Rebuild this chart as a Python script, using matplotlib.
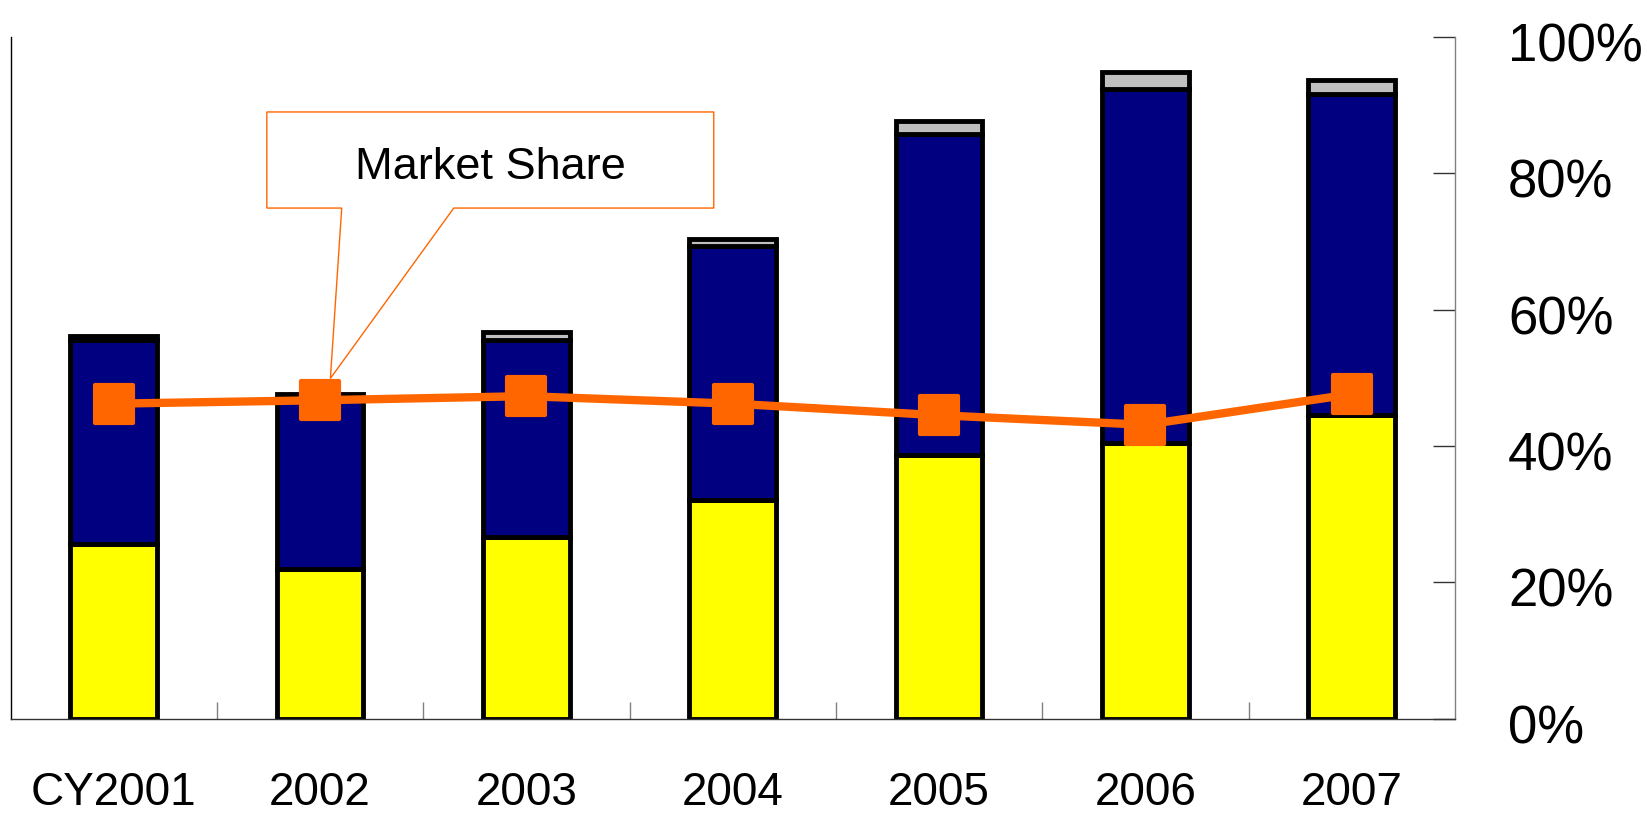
import numpy as np
import matplotlib.pyplot as plt
from matplotlib.patches import Polygon
from matplotlib.markers import MarkerStyle
from matplotlib.transforms import ScaledTranslation

# data (percent)
years = ['CY2001', '2002', '2003', '2004', '2005', '2006', '2007']
bottom_seg = [25.6, 21.9, 26.7, 32.0, 38.7, 40.4, 44.5]   # yellow
middle_seg = [30.0, 25.2, 28.9, 37.3, 47.1, 52.0, 47.2]   # navy
top_seg = [0.5, 0.5, 1.1, 1.0, 1.9, 2.4, 2.0]             # gray
market_share = [46.2, 46.7, 47.3, 46.2, 44.5, 43.1, 47.6]

plt.rcParams['font.family'] = ['Liberation Sans', 'DejaVu Sans']

fig = plt.figure(figsize=(16.47, 8.13), dpi=100)
ax = fig.add_axes([0.0064, 0.1162, 0.877, 0.8383])

x = np.arange(len(years))
bottom_seg = np.array(bottom_seg)
middle_seg = np.array(middle_seg)
top_seg = np.array(top_seg)

w = 0.42
ax.bar(x, bottom_seg, w, color='#FFFF00', edgecolor='black', linewidth=3.5, zorder=2)
ax.bar(x, middle_seg, w, bottom=bottom_seg, color='#000080', edgecolor='black',
       linewidth=3.5, zorder=2)
ax.bar(x, top_seg, w, bottom=bottom_seg + middle_seg, color='#C0C0C0',
       edgecolor='black', linewidth=3.5, zorder=2)

ax.plot(x, market_share, color='#FF6600', linewidth=6,
        marker=MarkerStyle('s', joinstyle='round'), markersize=28, markeredgewidth=3,
        markerfacecolor='#FF6600', markeredgecolor='#FF6600', zorder=4)

# callout box for the line, pointing at the 2002 marker
tx, ty = x[1] + 0.05, market_share[1] + 3.2
callout = Polygon([(0.742, 89.0), (2.908, 89.0), (2.908, 74.9), (1.648, 74.9),
                   (tx, ty), (1.105, 74.9), (0.742, 74.9)],
                  closed=True, facecolor='white', edgecolor='#FF6600',
                  linewidth=1, zorder=3)
ax.add_patch(callout)
ax.text(1.825, 80.8, 'Market Share', fontsize=32.5, ha='center', va='center', zorder=5)

ax.set_xlim(-0.5, len(years) - 0.5)
ax.set_ylim(0, 100)

# right-hand percent axis
ax.yaxis.tick_right()
ax.set_yticks(np.arange(0, 101, 20))
ax.set_yticklabels([f'{v}%' for v in range(0, 101, 20)])
ax.tick_params(axis='y', direction='in', length=16, width=1, color='#333333',
               labelsize=38, pad=-28)
for lab in ax.get_yticklabels():
    lab.set_horizontalalignment('left')
    lab.set_transform(lab.get_transform() + ScaledTranslation(0.92, -0.05, fig.dpi_scale_trans))

# category ticks between bars, labels under bars
ax.set_xticks(x)
ax.set_xticklabels(years)
ax.tick_params(axis='x', which='major', length=0, labelsize=33, pad=38)
ax.set_xticks(np.arange(0.5, len(years) - 1), minor=True)
ax.tick_params(axis='x', which='minor', direction='in', length=12, width=1, color='#808080')

ax.spines['top'].set_visible(False)
ax.spines['left'].set_color('black')
ax.spines['left'].set_linewidth(1)
ax.spines['right'].set_color('#808080')
ax.spines['right'].set_linewidth(1)
ax.spines['bottom'].set_color('#333333')
ax.spines['bottom'].set_linewidth(1)

fig.savefig('out.png', dpi=100)
